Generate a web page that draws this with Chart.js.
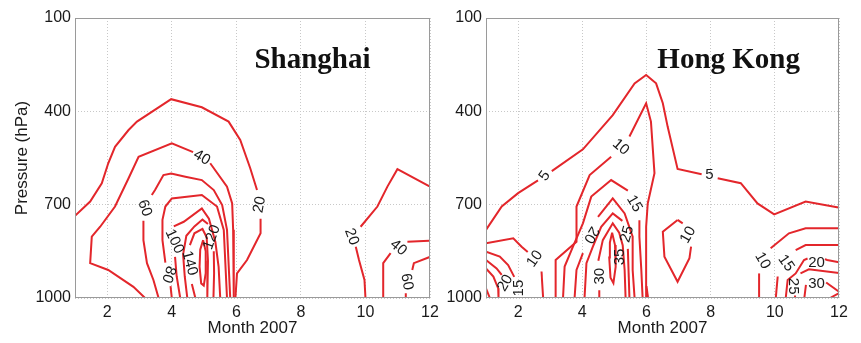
<!DOCTYPE html>
<html>
<head>
<meta charset="utf-8">
<script src="https://cdn.jsdelivr.net/npm/chart.js@4.4.1/dist/chart.umd.min.js"></script>
<style>
  body { margin: 0; background: #fff; width: 861px; height: 343px; position: relative; overflow: hidden; }
  canvas { position: absolute; top: 0; }
  #sh { left: 0; }
  #hk { left: 436px; }
</style>
</head>
<body>
<canvas id="sh" width="460" height="343"></canvas>
<canvas id="hk" width="425" height="343"></canvas>
<script>
// axis ticks
const monthTicks = [2, 4, 6, 8, 10, 12];
const pressureTicks = [100, 400, 700, 1000];

// Shanghai contours, [month, hPa]; null = gap for a label
const sh20a = [[1, 736], [1.47, 690], [1.83, 631], [2.03, 567], [2.24, 514], [2.66, 460], [2.92, 433], [3.98, 361], [4.93, 387], [5.76, 433], [6.12, 492], [6.43, 583], [6.64, 653], null, [6.75, 745], [6.75, 792], [6.33, 878], [6.02, 921], [5.97, 1000]];
const sh20b = [[10.0, 1000], [9.97, 942], [9.8, 878], [9.7, 835], null, [9.85, 771], [10.37, 706], [10.68, 642], [10.99, 586], [11.97, 640], [12, 642]];
const sh40a = [[3.17, 1000], [2.81, 964], [2.03, 910], [1.47, 888], [1.52, 803], [1.78, 771], [2.24, 706], [2.66, 615], [2.97, 546], [4.0, 503], [4.66, 531], null, [5.19, 567], [5.71, 642], [5.87, 696], [5.9, 781], [5.92, 1000]];
const sh40b = [[10.57, 1000], [10.55, 888], [10.78, 856], null, [11.3, 819], [11.97, 816], [12, 816]];
const sh60a = [[3.59, 1000], [3.43, 942], [3.23, 888], [3.12, 814], [3.12, 752], null, [3.38, 669], [3.48, 653], [3.74, 605], [3.98, 600], [4.42, 610], [4.93, 621], [5.3, 653], [5.56, 701], [5.71, 781], [5.81, 1000]];
const sh60b = [[12, 867], [11.97, 869], [11.5, 888], [11.45, 910], null, [11.25, 985], [11.25, 1000]];
const sh80 = [[4.0, 1000], [3.96, 962], null, [3.8, 886], [3.71, 814], [3.71, 749], [3.8, 706], [4.0, 680], [4.93, 669], [5.4, 706], [5.61, 781], [5.71, 1000]];
const sh100 = [[4.26, 1000], [4.15, 930], [4.1, 868], null, [4.06, 770], [4.37, 755], [4.93, 712], [5.15, 745], [5.35, 820], [5.45, 900], [5.5, 1000]];
const sh120 = [[4.48, 1000], [4.4, 930], [4.35, 860], [4.45, 800], [4.7, 770], [4.95, 748], [5.12, 762], null, [5.3, 850], [5.31, 920], [5.29, 1000]];
const sh140 = [[4.73, 1000], [4.62, 955], null, [4.56, 830], [4.7, 792], [4.95, 778], [5.08, 805], [5.12, 880], [5.1, 1000]];
const sh160 = [[4.97, 814], [5.05, 850], [5.05, 920], [4.99, 960], [4.91, 953], [4.86, 900], [4.88, 845], [4.97, 814]];

// Shanghai contour labels: text, month, hPa, angle (deg)
const shLabels = [
  ['20', 6.72, 700, -80], ['40', 4.93, 549, 30], ['60', 3.16, 711, 70],
  ['80', 3.9, 924, 110], ['100', 4.08, 818, 65], ['140', 4.55, 888, 75],
  ['120', 5.24, 805, -70], ['20', 9.57, 803, 70], ['40', 11.02, 838, 40],
  ['60', 11.28, 948, 80]
];

// Hong Kong contours
const hk5 = [[1.0, 781], [1.49, 706], [2.0, 663], [2.62, 622], null, [3.05, 592], [4.02, 522], [4.95, 412], [5.63, 310], [5.99, 283], [6.3, 310], [6.51, 374], [6.66, 449], [6.97, 585], [7.72, 602], null, [8.22, 615], [8.94, 631], [9.46, 696], [9.98, 731], [10.96, 690], [11.94, 708], [12, 709]];
const hk10 = [[3.17, 1000], [3.17, 878], [3.82, 819], [3.82, 706], [4.23, 605], [4.9, 546], null, [5.47, 481], [5.99, 374], [6.14, 433], [6.25, 599], [6.04, 696], [5.99, 771], [5.99, 1000]];
const hk15 = [[3.4, 1000], [3.45, 899], [3.71, 835], [4.02, 760], [4.28, 674], [4.9, 621], [5.42, 655], null, [5.78, 750], [5.78, 803], [5.84, 910], [5.88, 1000]];
const hk20 = [[3.76, 1000], [3.82, 910], [4.02, 856], null, [4.49, 739], [4.95, 680], [5.32, 728], [5.57, 803], [5.57, 910], [5.63, 1000]];
const hk25 = [[4.07, 1000], [4.13, 888], [4.33, 835], [4.59, 771], [4.95, 728], [5.25, 752], null, [5.42, 842], [5.47, 1000]];
const hk30 = [[4.55, 1000], [4.53, 975], null, [4.5, 880], [4.64, 814], [4.95, 760], [5.15, 790], [5.26, 830], [5.32, 910], [5.35, 1000]];
const hk35 = [[4.93, 790], [5.02, 830], [5.04, 900], [4.97, 952], [4.88, 935], [4.84, 870], [4.86, 822], [4.93, 790]];
const hk10island = [[6.97, 749], [6.51, 787], [6.56, 867], [6.97, 948], [7.34, 872], [7.39, 835], null, [7.13, 760], [6.97, 749]];
const hk10west = [[1.0, 824], [1.85, 808], [2.11, 835], [2.3, 852], null, [2.73, 915], [2.78, 1000]];
const hk15west = [[1.0, 851], [1.43, 867], [1.69, 894], [1.88, 932]];
const hk20west = [[1.0, 878], [1.33, 905], [1.49, 926]];
const hk25west = [[1.0, 905], [1.23, 931], [1.38, 969], [1.39, 1000]];
const hk30west = [[1.0, 969], [1.12, 1000]];
const hkStub = [[6.0, 962], [6.05, 1000]];
const hk10east = [[9.51, 1000], [9.51, 921], null, [9.87, 840], [10.44, 792], [10.96, 776], [12, 776]];
const hk15east = [[10.03, 1000], [10.09, 931], null, [10.65, 846], [10.96, 830], [12, 830]];
const hk20east = [[10.34, 1000], [10.4, 942], [10.65, 921], [10.91, 878], [11.02, 873], null, [11.56, 875], [11.63, 878], [12, 885]];
const hk25east = [[10.65, 1000], [10.63, 992], null, [10.8, 921], [11.06, 908], [12, 920]];
const hk30east = [[10.92, 1000], [10.97, 958], null, [11.6, 950], [12, 980]];
const hk30east2 = [[11.72, 1000], [12, 984]];

const hkLabels = [
  ['5', 2.83, 608, -55], ['5', 7.96, 605, 0], ['10', 5.2, 515, 40],
  ['15', 5.62, 697, 60], ['20', 4.28, 797, 120], ['25', 5.4, 795, -75],
  ['30', 4.54, 930, -90], ['35', 5.16, 868, -90], ['10', 7.3, 797, -60],
  ['10', 2.52, 874, -55], ['20', 1.6, 952, -60], ['15', 2.02, 968, -90],
  ['10', 9.62, 880, 60], ['15', 10.35, 888, 55], ['20', 11.3, 888, 0],
  ['25', 10.58, 962, 90], ['30', 11.3, 953, 0]
];

const RED = '#e3262b';
Chart.defaults.font.family = "'Liberation Sans', Arial, sans-serif";
Chart.defaults.font.size = 16;
Chart.defaults.color = '#1a1a1a';

const toDatasets = lines => {
  const out = [];
  lines.forEach(pts => {
    let seg = [];
    pts.forEach(p => {
      if (p) seg.push({ x: p[0], y: p[1] });
      else { out.push(seg); seg = []; }
    });
    out.push(seg);
  });
  return out.map(seg => ({
    data: seg, borderColor: RED, borderWidth: 2, pointRadius: 0, tension: 0, fill: false
  }));
};

const contourDecor = {
  id: 'contourDecor',
  afterDatasetsDraw(chart, args, opts) {
    const { ctx, chartArea: a, scales: { x, y } } = chart;
    ctx.save();
    ctx.strokeStyle = '#9a9a9a';
    ctx.lineWidth = 1;
    ctx.strokeRect(a.left + 0.5, a.top + 0.5, a.right - a.left - 1, a.bottom - a.top - 1);
    ctx.fillStyle = '#1a1a1a';
    ctx.font = "15px 'Liberation Sans', Arial, sans-serif";
    ctx.textAlign = 'center';
    ctx.textBaseline = 'middle';
    opts.labels.forEach(([t, m, p, ang]) => {
      ctx.save();
      ctx.translate(x.getPixelForValue(m), y.getPixelForValue(p));
      ctx.rotate(ang * Math.PI / 180);
      ctx.fillText(t, 0, 0);
      ctx.restore();
    });
    ctx.font = "bold 29px 'Liberation Serif', 'Times New Roman', serif";
    ctx.textAlign = 'left';
    ctx.textBaseline = 'alphabetic';
    ctx.fillStyle = '#111';
    ctx.fillText(opts.name[0], x.getPixelForValue(opts.name[1]), y.getPixelForValue(opts.name[2]));
    ctx.restore();
  }
};

function makeChart(id, lines, labels, name, yTitle, yWidth, padRight) {
  return new Chart(document.getElementById(id), {
    type: 'line',
    data: { datasets: toDatasets(lines) },
    plugins: [contourDecor],
    options: {
      responsive: false,
      animation: false,
      events: [],
      layout: { padding: { top: 18, right: padRight, bottom: 0, left: 0 } },
      plugins: {
        legend: { display: false },
        tooltip: { enabled: false },
        contourDecor: { labels: labels, name: name }
      },
      scales: {
        x: {
          type: 'linear', min: 1, max: 12,
          afterBuildTicks: s => { s.ticks = monthTicks.map(v => ({ value: v })); },
          afterFit: s => { s.height = 45; },
          grid: { color: '#c8c8c8', drawTicks: false },
          border: { display: false, dash: [1, 2] },
          ticks: { padding: 5, color: '#1a1a1a', callback: v => String(v) },
          title: { display: true, text: 'Month 2007', padding: { bottom: 4, top: 0 }, font: { size: 17 }, color: '#1a1a1a' }
        },
        y: {
          type: 'linear', min: 100, max: 1000, reverse: true,
          afterBuildTicks: s => { s.ticks = pressureTicks.map(v => ({ value: v })); },
          afterFit: s => { s.width = yWidth; },
          grid: { color: '#c8c8c8', drawTicks: false },
          border: { display: false, dash: [1, 2] },
          ticks: { padding: 4, color: '#1a1a1a', callback: v => String(v) },
          title: { display: yTitle, text: 'Pressure (hPa)', padding: { top: 12, bottom: 0 }, font: { size: 17 }, color: '#1a1a1a' }
        }
      }
    }
  });
}

makeChart('sh',
  [sh20a, sh20b, sh40a, sh40b, sh60a, sh60b, sh80, sh100, sh120, sh140, sh160],
  shLabels, ['Shanghai', 6.56, 261], true, 75, 30);

makeChart('hk',
  [hk5, hk10, hk15, hk20, hk25, hk30, hk35, hk10island, hk10west, hk15west, hk20west, hk25west, hk30west, hkStub,
   hk10east, hk15east, hk20east, hk25east, hk30east, hk30east2],
  hkLabels, ['Hong Kong', 6.34, 261], false, 50, 22);
</script>
</body>
</html>
